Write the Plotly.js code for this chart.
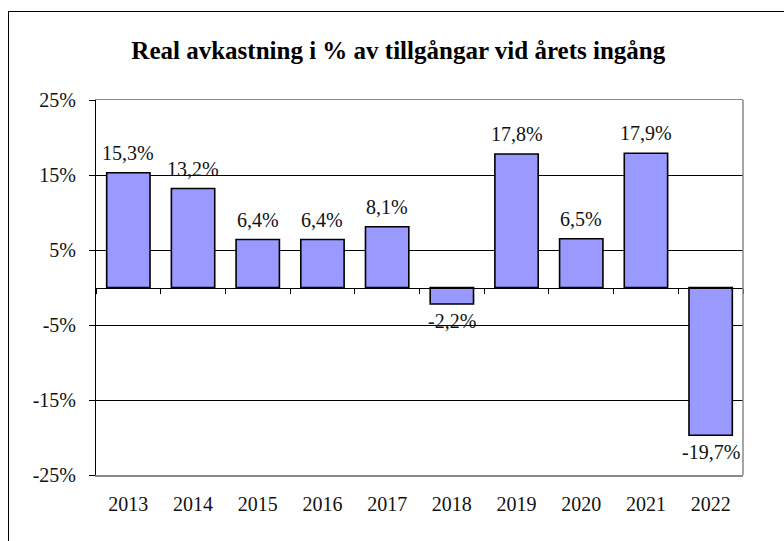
<!DOCTYPE html>
<html>
<head>
<meta charset="utf-8">
<script src="https://cdn.plot.ly/plotly-3.0.1.min.js"></script>
<style>
  html, body { margin: 0; padding: 0; background: #fff; overflow: hidden; }
  #wrap { position: relative; width: 784px; height: 541px; }
  #chart { position: absolute; left: 0; top: 0; width: 784px; height: 541px; }
  #frame { position: absolute; left: 8px; top: 11px; width: 820px; height: 600px;
           border: 1.5px solid #000; pointer-events: none; }
</style>
</head>
<body>
<div id="wrap">
  <div id="chart"></div>
  <div id="frame"></div>
</div>
<script>
const years = ['2013','2014','2015','2016','2017','2018','2019','2020','2021','2022'];
const returns = [15.3, 13.2, 6.4, 6.4, 8.1, -2.2, 17.8, 6.5, 17.9, -19.7];
const yTickVals = [-25, -15, -5, 5, 15, 25];
const yTickText = ['-25%', '-15%', '-5%', '5%', '15%', '25%'];
const gridVals = [-15, -5, 5, 15];
const titleText = 'Real avkastning i % av tillgångar vid årets ingång';

const labels = returns.map(v => v.toFixed(1).replace('.', ',') + '%');
const serif = 'Liberation Serif, Times New Roman, serif';

const trace = {
  type: 'bar',
  x: years,
  y: returns,
  marker: { color: '#9999FF', line: { color: '#000', width: 1.6 } },
  hoverinfo: 'none'
};

const valueLabels = years.map((yr, i) => ({
  x: i, y: returns[i], xref: 'x', yref: 'y',
  text: labels[i], showarrow: false,
  xanchor: 'center',
  yanchor: returns[i] >= 0 ? 'bottom' : 'top',
  yshift: returns[i] >= 0 ? 7 : -4,
  font: { family: serif, size: 20, color: '#111' }
}));

const layout = {
  width: 784, height: 541,
  margin: { l: 96, r: 41, t: 100, b: 66 },
  paper_bgcolor: 'rgba(0,0,0,0)',
  plot_bgcolor: 'rgba(0,0,0,0)',
  showlegend: false,
  bargap: 0.33,
  title: {
    text: '<b>' + titleText + '</b>',
    font: { family: serif, size: 25, color: '#000' },
    xref: 'container', x: 0.508, xanchor: 'center',
    yref: 'container', y: 1 - 50 / 541, yanchor: 'middle'
  },
  xaxis: {
    type: 'category',
    categoryorder: 'array', categoryarray: years,
    range: [-0.5, 9.5],
    showline: true, linecolor: '#888', linewidth: 1.5, mirror: true,
    ticks: '', showgrid: false, zeroline: false,
    ticklabelstandoff: 10,
    tickfont: { family: serif, size: 20, color: '#111' }
  },
  xaxis2: {
    type: 'category',
    categoryorder: 'array', categoryarray: years,
    overlaying: 'x', anchor: 'free', position: 0.5,
    range: [-0.5, 9.5],
    tickson: 'boundaries',
    ticks: 'outside', ticklen: 5, tickcolor: '#000', tickwidth: 1,
    showticklabels: false, showline: true, linecolor: '#000', linewidth: 1,
    showgrid: false, zeroline: false
  },
  yaxis: {
    range: [-25, 25],
    tickmode: 'array', tickvals: yTickVals, ticktext: yTickText,
    showline: true, linecolor: '#000', linewidth: 1,
    ticks: 'outside', ticklen: 6, tickcolor: '#000',
    ticklabelstandoff: 9,
    showgrid: false, zeroline: false,
    tickfont: { family: serif, size: 20, color: '#111' }
  },
  yaxis2: {
    overlaying: 'y', anchor: 'x',
    range: [-25, 25],
    tickmode: 'array', tickvals: gridVals,
    showticklabels: false, ticks: '',
    showgrid: true, gridcolor: '#000', gridwidth: 1,
    zeroline: false, showline: false
  },
  annotations: valueLabels,
  shapes: [
    { type: 'line', xref: 'paper', yref: 'paper', x0: 1, x1: 1, y0: 0, y1: 1,
      line: { color: '#888', width: 1.5 }, layer: 'above' }
  ]
};

const dummy = { type: 'scatter', x: [], y: [], xaxis: 'x2', yaxis: 'y2', hoverinfo: 'none' };

Plotly.newPlot('chart', [dummy, trace], layout, { staticPlot: true, displayModeBar: false });
</script>
</body>
</html>
